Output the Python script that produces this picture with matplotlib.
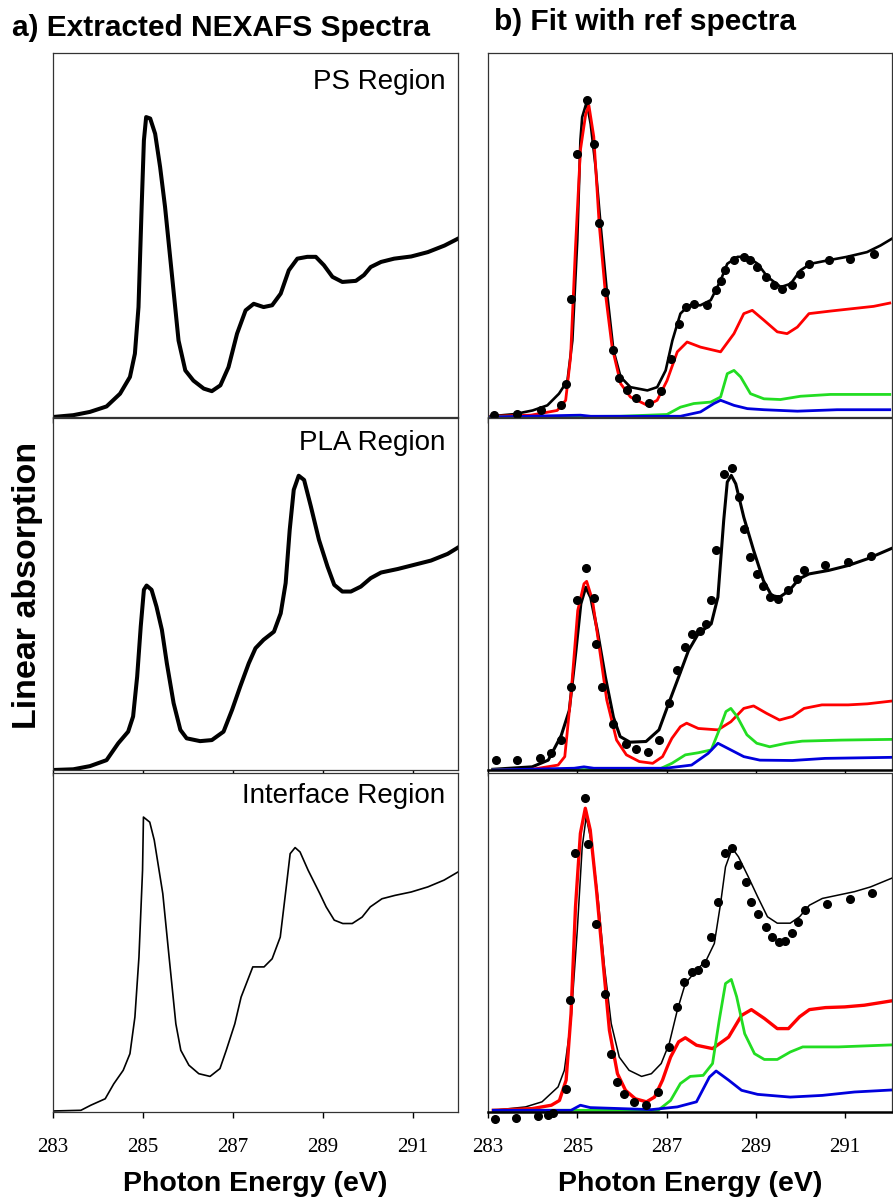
import matplotlib
matplotlib.use('Agg')
import matplotlib.pyplot as plt
from matplotlib import font_manager

# ---- a) extracted spectra (energy in eV, normalised absorption) ----
ps_e = [283.0, 283.45, 283.82, 284.19, 284.49, 284.71, 284.82, 284.90, 284.97, 285.02, 285.07, 285.16,
        285.27, 285.38, 285.49, 285.64, 285.79, 285.94, 286.12, 286.35, 286.53, 286.72, 286.90, 287.09,
        287.28, 287.46, 287.68, 287.87, 288.06, 288.24, 288.43, 288.65, 288.84, 289.02, 289.21, 289.43,
        289.73, 289.91, 290.06, 290.29, 290.58, 290.96, 291.33, 291.70, 292.0]
ps_y = [0.0, 0.005, 0.014, 0.029, 0.064, 0.11, 0.174, 0.302, 0.577, 0.76, 0.824, 0.82,
        0.778, 0.687, 0.577, 0.394, 0.21, 0.128, 0.1, 0.078, 0.071, 0.087, 0.137, 0.229,
        0.293, 0.311, 0.302, 0.307, 0.339, 0.403, 0.435, 0.44, 0.44, 0.417, 0.385, 0.371,
        0.374, 0.39, 0.412, 0.426, 0.435, 0.441, 0.453, 0.471, 0.49]

pla_e = [283.0, 283.45, 283.82, 284.19, 284.45, 284.67, 284.78, 284.87, 284.95, 285.02, 285.08, 285.19,
         285.30, 285.42, 285.53, 285.68, 285.83, 285.97, 286.27, 286.53, 286.79, 286.98, 287.16, 287.35,
         287.50, 287.68, 287.91, 288.06, 288.17, 288.26, 288.35, 288.46, 288.58, 288.73, 288.91, 289.10,
         289.25, 289.43, 289.62, 289.84, 290.06, 290.29, 290.66, 291.03, 291.40, 291.77, 292.0]
pla_y = [0.0, 0.002, 0.011, 0.028, 0.076, 0.109, 0.152, 0.265, 0.408, 0.512, 0.524, 0.512,
         0.464, 0.398, 0.303, 0.19, 0.114, 0.09, 0.082, 0.085, 0.109, 0.171, 0.237, 0.303,
         0.346, 0.37, 0.393, 0.445, 0.531, 0.682, 0.796, 0.836, 0.824, 0.749, 0.654, 0.578,
         0.526, 0.507, 0.507, 0.521, 0.545, 0.561, 0.571, 0.583, 0.595, 0.614, 0.632]

int_e = [283.0, 283.62, 283.84, 284.16, 284.35, 284.56, 284.71, 284.82, 284.91, 284.99, 285.01, 285.15,
         285.25, 285.44, 285.58, 285.73, 285.84, 286.02, 286.24, 286.49, 286.71, 286.85, 287.04, 287.18,
         287.44, 287.69, 287.87, 288.05, 288.18, 288.27, 288.38, 288.49, 288.67, 288.93, 289.07, 289.25,
         289.44, 289.65, 289.87, 290.05, 290.31, 290.60, 290.96, 291.33, 291.69, 292.0]
int_y = [0.003, 0.005, 0.02, 0.039, 0.083, 0.123, 0.172, 0.28, 0.457, 0.713, 0.87, 0.855,
         0.802, 0.644, 0.457, 0.26, 0.182, 0.138, 0.113, 0.105, 0.128, 0.182, 0.26, 0.339,
         0.428, 0.428, 0.452, 0.516, 0.66, 0.762, 0.78, 0.767, 0.713, 0.644, 0.605, 0.566,
         0.556, 0.556, 0.575, 0.605, 0.629, 0.639, 0.649, 0.664, 0.684, 0.708]

# ---- b) fits: PS region ----
fit1_e = [283.06, 283.6, 284.0, 284.33, 284.59, 284.78, 284.89, 285.00, 285.07, 285.11, 285.21, 285.30,
          285.41, 285.52, 285.66, 285.81, 285.97, 286.19, 286.57, 286.79, 286.98, 287.13, 287.31, 287.50,
          287.76, 287.99, 288.21, 288.36, 288.59, 288.81, 289.04, 289.26, 289.56, 289.78, 290.00, 290.23,
          290.60, 291.04, 291.49, 291.79, 292.05]
fit1_y = [0.002, 0.008, 0.018, 0.032, 0.064, 0.1, 0.21, 0.485, 0.76, 0.824, 0.865, 0.805,
          0.687, 0.531, 0.348, 0.183, 0.11, 0.082, 0.073, 0.082, 0.128, 0.21, 0.284, 0.307,
          0.307, 0.321, 0.375, 0.421, 0.44, 0.44, 0.421, 0.385, 0.357, 0.366, 0.403, 0.421,
          0.43, 0.44, 0.453, 0.471, 0.49]
dots1_e = [283.13, 283.66, 284.18, 284.63, 284.74, 284.85, 285.00, 285.21, 285.37, 285.49, 285.63, 285.81,
           285.93, 286.12, 286.31, 286.60, 286.87, 287.09, 287.28, 287.43, 287.61, 287.91, 288.10, 288.21,
           288.32, 288.51, 288.73, 288.88, 289.03, 289.22, 289.40, 289.59, 289.81, 290.00, 290.19, 290.63,
           291.12, 291.64]
dots1_y = [0.005, 0.009, 0.02, 0.032, 0.092, 0.325, 0.723, 0.87, 0.751, 0.533, 0.343, 0.183,
           0.108, 0.073, 0.053, 0.038, 0.071, 0.16, 0.256, 0.302, 0.311, 0.307, 0.348, 0.375,
           0.403, 0.43, 0.44, 0.43, 0.412, 0.385, 0.362, 0.353, 0.362, 0.394, 0.421, 0.432,
           0.435, 0.449]
red1_e = [283.06, 283.96, 284.55, 284.74, 284.85, 284.96, 285.07, 285.19, 285.26, 285.37, 285.49, 285.63,
          285.78, 285.97, 286.19, 286.57, 286.79, 287.01, 287.24, 287.46, 287.76, 288.21, 288.51, 288.73,
          288.92, 289.18, 289.48, 289.70, 289.93, 290.19, 290.67, 291.19, 291.64, 292.0]
red1_y = [0.002, 0.005, 0.018, 0.046, 0.165, 0.467, 0.733, 0.833, 0.856, 0.77, 0.531, 0.339,
          0.192, 0.092, 0.055, 0.032, 0.046, 0.1, 0.179, 0.206, 0.192, 0.179, 0.229, 0.284,
          0.293, 0.266, 0.234, 0.229, 0.247, 0.284, 0.291, 0.298, 0.304, 0.313]
green1_e = [283.06, 285.97, 287.01, 287.31, 287.61, 287.99, 288.21, 288.36, 288.51, 288.66, 288.88, 289.18,
            289.55, 290.00, 290.67, 292.0]
green1_y = [0.0, 0.002, 0.007, 0.027, 0.037, 0.041, 0.055, 0.119, 0.128, 0.11, 0.064, 0.05,
            0.048, 0.057, 0.062, 0.062]
blue1_e = [283.06, 285.07, 285.30, 287.31, 287.76, 288.06, 288.21, 288.51, 288.81, 289.18, 289.93, 290.82, 292.0]
blue1_y = [0.0, 0.005, 0.002, 0.002, 0.014, 0.037, 0.046, 0.032, 0.023, 0.02, 0.016, 0.02, 0.02]

# ---- b) fits: PLA region ----
fit2_e = [283.11, 283.99, 284.35, 284.64, 284.82, 284.97, 285.08, 285.19, 285.30, 285.45, 285.63, 285.81,
          285.96, 286.18, 286.54, 286.83, 287.05, 287.27, 287.49, 287.71, 288.00, 288.15, 288.28, 288.36,
          288.45, 288.55, 288.73, 288.95, 289.17, 289.35, 289.53, 289.75, 289.97, 290.19, 290.63, 291.07,
          291.50, 292.05]
fit2_y = [0.002, 0.009, 0.028, 0.098, 0.169, 0.339, 0.472, 0.519, 0.49, 0.396, 0.264, 0.15,
          0.095, 0.079, 0.081, 0.114, 0.19, 0.264, 0.339, 0.387, 0.415, 0.491, 0.709, 0.818,
          0.837, 0.813, 0.718, 0.624, 0.538, 0.496, 0.491, 0.51, 0.543, 0.557, 0.567, 0.581,
          0.6, 0.63]
dots2_e = [283.17, 283.66, 284.17, 284.42, 284.64, 284.85, 284.99, 285.20, 285.37, 285.41, 285.55, 285.81,
           286.10, 286.32, 286.58, 286.83, 287.05, 287.23, 287.42, 287.56, 287.74, 287.89, 288.00, 288.11,
           288.29, 288.47, 288.62, 288.73, 288.88, 289.02, 289.17, 289.31, 289.50, 289.72, 289.93, 290.08,
           290.55, 291.07, 291.58]
dots2_y = [0.027, 0.028, 0.033, 0.047, 0.085, 0.237, 0.482, 0.575, 0.49, 0.358, 0.235, 0.131,
           0.074, 0.06, 0.052, 0.085, 0.19, 0.284, 0.349, 0.387, 0.396, 0.415, 0.482, 0.624,
           0.842, 0.858, 0.775, 0.685, 0.604, 0.557, 0.524, 0.491, 0.486, 0.51, 0.543, 0.567,
           0.581, 0.59, 0.609]
red2_e = [283.11, 283.99, 284.57, 284.72, 284.86, 285.01, 285.15, 285.21, 285.34, 285.48, 285.66, 285.88,
          286.10, 286.39, 286.69, 286.91, 287.12, 287.31, 287.45, 287.71, 288.15, 288.44, 288.73, 288.95,
          289.24, 289.53, 289.82, 290.08, 290.48, 291.07, 291.50, 292.05]
red2_y = [0.0, 0.002, 0.014, 0.038, 0.216, 0.453, 0.529, 0.536, 0.483, 0.36, 0.199, 0.085,
          0.043, 0.024, 0.019, 0.038, 0.09, 0.123, 0.133, 0.118, 0.114, 0.137, 0.175, 0.182,
          0.161, 0.142, 0.152, 0.175, 0.185, 0.185, 0.188, 0.196]
green2_e = [283.11, 286.83, 287.12, 287.42, 287.71, 288.00, 288.18, 288.33, 288.44, 288.58, 288.80, 289.02,
            289.31, 289.68, 290.04, 290.92, 292.05]
green2_y = [0.0, 0.002, 0.019, 0.043, 0.049, 0.057, 0.114, 0.166, 0.175, 0.152, 0.1, 0.076,
            0.066, 0.076, 0.082, 0.085, 0.087]
blue2_e = [283.11, 284.93, 285.15, 285.37, 286.98, 287.56, 287.93, 288.15, 288.44, 288.73, 289.09, 289.82,
           290.55, 292.05]
blue2_y = [0.0, 0.005, 0.009, 0.005, 0.005, 0.014, 0.047, 0.076, 0.057, 0.038, 0.028, 0.027,
           0.033, 0.036]

# ---- b) fits: Interface region ----
fit3_e = [283.12, 283.84, 284.21, 284.57, 284.71, 284.86, 285.00, 285.11, 285.20, 285.32, 285.47, 285.61,
          285.76, 285.94, 286.16, 286.44, 286.66, 286.88, 287.06, 287.24, 287.42, 287.67, 287.89, 288.07,
          288.21, 288.32, 288.47, 288.61, 288.83, 289.04, 289.26, 289.48, 289.77, 289.98, 290.20, 290.49,
          290.85, 291.21, 291.57, 292.05]
fit3_y = [0.005, 0.015, 0.03, 0.074, 0.123, 0.271, 0.536, 0.782, 0.871, 0.792, 0.625, 0.428,
          0.261, 0.162, 0.123, 0.105, 0.113, 0.143, 0.202, 0.3, 0.379, 0.418, 0.448, 0.497,
          0.615, 0.723, 0.778, 0.753, 0.694, 0.635, 0.576, 0.557, 0.557, 0.576, 0.61, 0.63,
          0.64, 0.65, 0.664, 0.69]
dots3_e = [283.16, 283.63, 284.13, 284.35, 284.46, 284.75, 284.84, 284.96, 285.18, 285.25, 285.43, 285.61,
           285.76, 285.90, 286.05, 286.26, 286.55, 286.81, 287.06, 287.24, 287.39, 287.56, 287.71, 287.85,
           288.00, 288.16, 288.32, 288.47, 288.61, 288.79, 288.90, 289.04, 289.22, 289.37, 289.51, 289.66,
           289.80, 289.95, 290.09, 290.60, 291.10, 291.61]
dots3_y = [-0.02, -0.017, -0.013, -0.01, -0.003, 0.069, 0.33, 0.763, 0.925, 0.792, 0.556, 0.349,
           0.172, 0.089, 0.054, 0.03, 0.02, 0.059, 0.192, 0.31, 0.384, 0.413, 0.418, 0.44,
           0.517, 0.62, 0.765, 0.778, 0.728, 0.679, 0.62, 0.584, 0.546, 0.517, 0.502, 0.505,
           0.527, 0.561, 0.595, 0.615, 0.627, 0.645]
red3_e = [283.12, 283.99, 284.42, 284.60, 284.75, 284.86, 284.96, 285.07, 285.18, 285.29, 285.43, 285.58,
          285.72, 285.90, 286.08, 286.30, 286.55, 286.73, 286.91, 287.09, 287.27, 287.42, 287.67, 288.03,
          288.39, 288.68, 288.90, 289.19, 289.48, 289.73, 289.98, 290.20, 290.56, 290.99, 291.43, 292.05]
red3_y = [0.005, 0.01, 0.02, 0.034, 0.094, 0.29, 0.605, 0.822, 0.896, 0.832, 0.655, 0.438,
          0.241, 0.113, 0.064, 0.039, 0.03, 0.044, 0.094, 0.162, 0.207, 0.219, 0.197, 0.187,
          0.221, 0.285, 0.302, 0.276, 0.246, 0.246, 0.281, 0.302, 0.308, 0.31, 0.315, 0.328]
green3_e = [283.12, 286.81, 287.09, 287.31, 287.53, 287.82, 288.03, 288.18, 288.32, 288.45, 288.57, 288.75,
            288.97, 289.19, 289.48, 289.77, 290.05, 290.85, 292.05]
green3_y = [0.005, 0.005, 0.034, 0.084, 0.105, 0.108, 0.143, 0.271, 0.379, 0.391, 0.34, 0.231,
            0.172, 0.155, 0.155, 0.177, 0.192, 0.192, 0.198]
blue3_e = [283.12, 284.86, 285.07, 285.29, 286.66, 287.24, 287.67, 287.96, 288.11, 288.39, 288.68, 289.04,
           289.77, 290.49, 291.21, 292.05]
blue3_y = [0.005, 0.005, 0.02, 0.013, 0.007, 0.015, 0.03, 0.103, 0.121, 0.094, 0.064, 0.052,
           0.044, 0.049, 0.059, 0.065]

region_names = ['PS Region', 'PLA Region', 'Interface Region']
tick_vals = [283, 285, 287, 289, 291]

names = {f.name for f in font_manager.fontManager.ttflist}
sans = 'Liberation Sans' if 'Liberation Sans' in names else 'DejaVu Sans'
serif = 'Liberation Serif' if 'Liberation Serif' in names else 'DejaVu Serif'
plt.rcParams['font.family'] = sans

W, H = 893, 1202
fig = plt.figure(figsize=(W / 100, H / 100), dpi=100)

def box(x0, y0, x1, y1):
    # pixel box -> figure fraction
    return [x0 / W, 1 - y1 / H, (x1 - x0) / W, (y1 - y0) / H]

rows = [(53, 417), (418, 770), (773, 1112)]
label_y = [0.92, 0.929, 0.932]
left_data = [(ps_e, ps_y, 2.9), (pla_e, pla_y, 2.9), (int_e, int_y, 1.2)]
right_data = [
    (fit1_e, fit1_y, 1.9, dots1_e, dots1_y, red1_e, red1_y, green1_e, green1_y, blue1_e, blue1_y),
    (fit2_e, fit2_y, 2.2, dots2_e, dots2_y, red2_e, red2_y, green2_e, green2_y, blue2_e, blue2_y),
    (fit3_e, fit3_y, 1.1, dots3_e, dots3_y, red3_e, red3_y, green3_e, green3_y, blue3_e, blue3_y),
]

def style(ax, xmax, bottom_row):
    ax.set_xlim(283, xmax)
    ax.set_ylim(0, 1)
    ax.set_yticks([])
    ax.set_xticks(tick_vals)
    ax.tick_params(axis='x', direction='out', length=4, width=1, pad=15)
    for s in ax.spines.values():
        s.set_linewidth(0.9)
        s.set_color('#333333')
    if bottom_row:
        ax.set_xticklabels([str(t) for t in tick_vals], fontfamily=serif, fontsize=15)
        ax.set_xlabel('Photon Energy (eV)', fontsize=20.5, fontweight='bold', labelpad=10)
    else:
        ax.set_xticklabels([])

for i, (y0, y1) in enumerate(rows):
    # left column
    axl = fig.add_axes(box(53, y0, 458, y1))
    e, y, lw = left_data[i]
    axl.plot(e, y, color='black', lw=lw, solid_joinstyle='round')
    axl.text(0.968, label_y[i], region_names[i], transform=axl.transAxes,
             ha='right', va='center', fontsize=20)
    style(axl, 292.0, i == 2)

    # right column
    axr = fig.add_axes(box(488, y0, 892, y1))
    fe, fy, flw, de, dy, re_, ry, ge, gy, be, by = right_data[i]
    axr.plot(fe, fy, color='black', lw=flw, solid_joinstyle='round')
    axr.plot(re_, ry, color='#ff0000', lw=2.4 if i == 2 else 2.0, solid_joinstyle='round')
    axr.plot(ge, gy, color='#22dd22', lw=2.0, solid_joinstyle='round')
    axr.plot(be, by, color='#0000dd', lw=2.0, solid_joinstyle='round')
    axr.plot(de, dy, 'o', color='black', ms=5.5, clip_on=False, zorder=5)
    style(axr, 292.05, i == 2)
    if i > 0:
        axr.spines['bottom'].set_linewidth(1.8)
        axr.spines['bottom'].set_color('black')

fig.text(12 / W, 1 - 28 / H, 'a) Extracted NEXAFS Spectra', fontsize=21.5, fontweight='bold',
         ha='left', va='center')
fig.text(494 / W, 1 - 22 / H, 'b) Fit with ref spectra', fontsize=21.5, fontweight='bold',
         ha='left', va='center')
fig.text(28 / W, 1 - 585 / H, 'Linear absorption', fontsize=24.5, fontweight='bold',
         rotation=90, ha='center', va='center')

fig.savefig('out.png', dpi=100)
